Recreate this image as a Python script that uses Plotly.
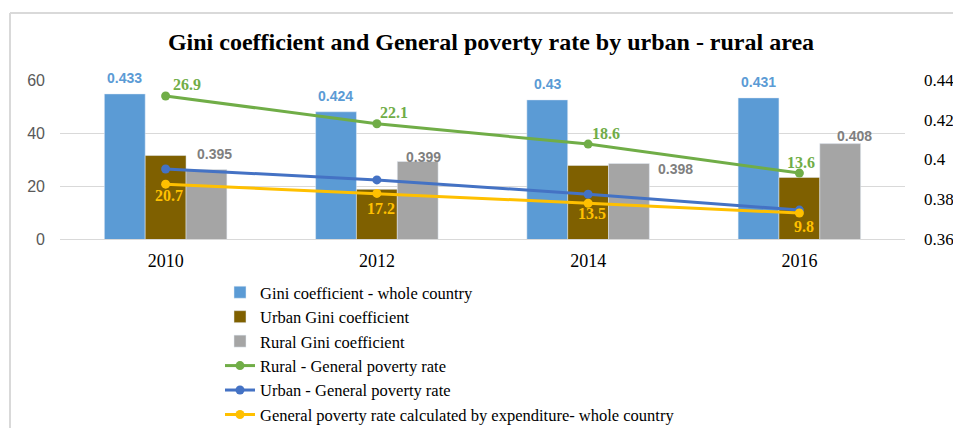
import plotly.graph_objects as go

years = ["2010", "2012", "2014", "2016"]
gini_whole = [0.433, 0.424, 0.43, 0.431]
gini_urban = [0.402, 0.385, 0.397, 0.391]
gini_rural = [0.395, 0.399, 0.398, 0.408]
pov_rural = [26.9, 22.1, 18.6, 13.6]
pov_urban = [26.4, 22.3, 16.9, 10.9]
pov_whole = [20.7, 17.2, 13.5, 9.8]

left_ticks = [0, 20, 40, 60]
right_ticks = [0.36, 0.38, 0.40, 0.42, 0.44]
right_ticktext = ["0.36", "0.38", "0.4", "0.42", "0.44"]

SERIF = "Liberation Serif"
SANS = "Liberation Sans"

C_BLUE = "#5B9BD5"
C_BROWN = "#7F6000"
C_GREY = "#A5A5A5"
C_GREEN = "#70AD47"
C_BLINE = "#4472C4"
C_YELLOW = "#FFC000"

W, H = 953, 420
ML, MR, MT, MB = 37, 56, 72, 189
PW = W - ML - MR          # paper width in px
PH = H - MT - MB          # plot height in px
X0 = 15 / PW              # start of x domain (room for left tick labels)
PLOT_W = PW * (1 - X0)

fig = go.Figure()
fig.add_trace(go.Bar(x=years, y=gini_whole, name="Gini coefficient - whole country",
                     marker_color=C_BLUE, yaxis="y"))
fig.add_trace(go.Bar(x=years, y=gini_urban, name="Urban Gini coefficient",
                     marker_color=C_BROWN, yaxis="y"))
fig.add_trace(go.Bar(x=years, y=gini_rural, name="Rural Gini coefficient",
                     marker_color=C_GREY, yaxis="y"))
fig.add_trace(go.Scatter(x=years, y=pov_rural, name="Rural - General poverty rate",
                         mode="lines+markers", line=dict(color=C_GREEN, width=3),
                         marker=dict(size=9, color=C_GREEN), yaxis="y3"))
fig.add_trace(go.Scatter(x=years, y=pov_urban, name="Urban - General poverty rate",
                         mode="lines+markers", line=dict(color=C_BLINE, width=3),
                         marker=dict(size=9, color=C_BLINE), yaxis="y2"))
fig.add_trace(go.Scatter(x=years, y=pov_whole,
                         name="General poverty rate calculated by expenditure- whole country",
                         mode="lines+markers", line=dict(color=C_YELLOW, width=3),
                         marker=dict(size=9, color=C_YELLOW), yaxis="y2"))

ann = []
for i, v in enumerate(gini_whole):
    ann.append(dict(x=i, y=v, xref="x", yref="y", text="<b>%s</b>" % v, showarrow=False,
                    xshift=-41, yshift=16, font=dict(family=SANS, size=14, color=C_BLUE)))
grey_shift = [(49, 15), (47, 4), (87, -6), (55, 8)]
for i, v in enumerate(gini_rural):
    ann.append(dict(x=i, y=v, xref="x", yref="y", text="<b>%s</b>" % v, showarrow=False,
                    xshift=grey_shift[i][0], yshift=grey_shift[i][1],
                    font=dict(family=SANS, size=14, color="#7F7F7F")))
green_shift = [(21, 11), (17, 11), (18, 11), (2, 11)]
for i, v in enumerate(pov_rural):
    ann.append(dict(x=i, y=v, xref="x", yref="y3", text="<b>%s</b>" % v, showarrow=False,
                    xshift=green_shift[i][0], yshift=green_shift[i][1],
                    font=dict(family=SERIF, size=16, color=C_GREEN)))
yel_shift = [(3, -11), (4, -15), (4, -10), (5, -13)]
for i, v in enumerate(pov_whole):
    ann.append(dict(x=i, y=v, xref="x", yref="y2", text="<b>%s</b>" % v, showarrow=False,
                    xshift=yel_shift[i][0], yshift=yel_shift[i][1],
                    font=dict(family=SERIF, size=16, color=C_YELLOW)))

def px_x(fx):
    return (fx - ML) / PW

def px_y(fy):
    return (H - MB - fy) / PH

fig.update_layout(
    width=W, height=H,
    margin=dict(l=ML, r=MR, t=MT, b=MB, autoexpand=False),
    paper_bgcolor="white", plot_bgcolor="white",
    title=dict(text="<b>Gini coefficient and General poverty rate by urban - rural area</b>",
               x=px_x(483), xref="paper", xanchor="center", y=1 - 34 / H, yanchor="middle",
               font=dict(family=SERIF, size=24, color="#000000")),
    barmode="group", bargap=0.42, bargroupgap=0,
    xaxis=dict(type="category", range=[-0.5, 3.5], domain=[X0, 1], showgrid=False,
               showline=True, linecolor="#D9D9D9", linewidth=1, ticks="",
               ticklabelstandoff=5,
               tickfont=dict(family=SERIF, size=18, color="#000000")),
    yaxis=dict(range=[0.36, 0.44], tickvals=right_ticks, ticktext=right_ticktext,
               side="right", showgrid=False, zeroline=False, ticklabelstandoff=18,
               minor=dict(dtick=(0.44 - 0.36) / 3, tick0=0.36, showgrid=True,
                          gridcolor="#D9D9D9", gridwidth=1, ticks=""),
               tickfont=dict(family=SERIF, size=17, color="#000000")),
    yaxis2=dict(range=[0, 60], tickvals=left_ticks, overlaying="y", side="left",
                anchor="free", position=0,
                showgrid=False, zeroline=False, showline=False, ticks="",
                tickfont=dict(family=SANS, size=16, color="#595959")),
    yaxis3=dict(range=[2.24, 29.65], overlaying="y", side="right", showgrid=False,
                zeroline=False, showticklabels=False, showline=False, ticks=""),
    legend=dict(orientation="v", x=px_x(212), xanchor="left", y=px_y(267), yanchor="top",
                font=dict(family=SERIF, size=16.5, color="#000000"),
                tracegroupgap=0, itemwidth=30, bgcolor="rgba(0,0,0,0)"),
    annotations=ann,
    shapes=[
        dict(type="line", xref="paper", yref="paper", x0=px_x(2), x1=px_x(960),
             y0=px_y(5), y1=px_y(5), line=dict(color="#D9D9D9", width=2)),
        dict(type="line", xref="paper", yref="paper", x0=px_x(2), x1=px_x(2),
             y0=px_y(5), y1=px_y(425), line=dict(color="#D9D9D9", width=2)),
    ],
)

fig.write_html("out.html")
